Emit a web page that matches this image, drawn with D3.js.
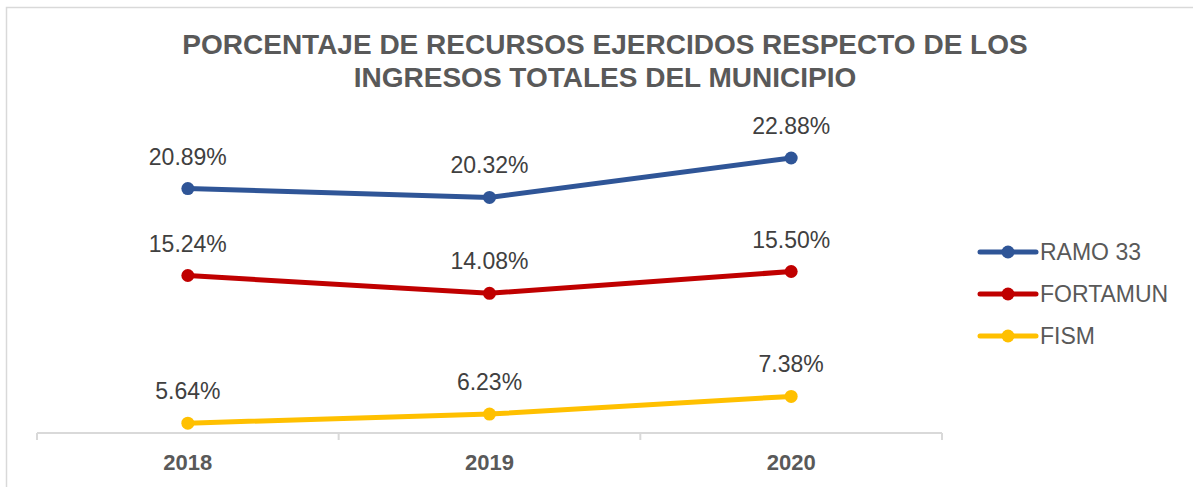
<!DOCTYPE html>
<html>
<head>
<meta charset="utf-8">
<script src="https://cdn.jsdelivr.net/npm/d3@7"></script>
<style>
  body { margin: 0; background: #fff; }
  text { font-family: "Liberation Sans", Arial, sans-serif; }
</style>
</head>
<body>
<div id="chart"></div>
<script>
// données
const YEARS = ['2018', '2019', '2020'];
const RAMO33 = [20.89, 20.32, 22.88];
const FORTAMUN = [15.24, 14.08, 15.50];
const FISM = [5.64, 6.23, 7.38];
const SERIES_NAMES = ['RAMO 33', 'FORTAMUN', 'FISM'];
const COLORS = ['#2F5597', '#C00000', '#FFC000'];

const SERIES = SERIES_NAMES.map((name, i) => ({
  name,
  color: COLORS[i],
  values: [RAMO33, FORTAMUN, FISM][i]
}));

const WIDTH = 1193;
const HEIGHT = 487;

const svg = d3.select('#chart').append('svg').attr('width', WIDTH).attr('height', HEIGHT);

// cadre du graphique
svg.append('rect')
  .attr('x', 6.5).attr('y', 7.5)
  .attr('width', 1250).attr('height', 520)
  .attr('fill', 'none')
  .attr('stroke', '#d9d9d9')
  .attr('stroke-width', 1.5);

// titre
const title = svg.append('text')
  .attr('text-anchor', 'middle')
  .attr('fill', '#595959')
  .style('font-size', '28px')
  .style('font-weight', 'bold');
title.append('tspan').attr('x', 605).attr('y', 54).text('PORCENTAJE DE RECURSOS EJERCIDOS RESPECTO DE LOS');
title.append('tspan').attr('x', 605).attr('y', 87).text('INGRESOS TOTALES DEL MUNICIPIO');

// échelles
const x = d3.scaleBand().domain(YEARS).range([37, 942]);
const y = d3.scaleLinear().domain([5, 25]).range([433, 125.4]);
const cx = d => x(d) + x.bandwidth() / 2;

// axe des x
const axis = svg.append('g').attr('transform', 'translate(0, 433)');
axis.append('line')
  .attr('x1', x.range()[0]).attr('x2', x.range()[1])
  .attr('stroke', '#d9d9d9').attr('stroke-width', 2);
const bounds = YEARS.map(d => x(d)).concat([x.range()[1]]);
axis.selectAll('.tick-mark')
  .data(bounds)
  .enter()
  .append('line')
  .attr('x1', d => d).attr('x2', d => d)
  .attr('y1', 0).attr('y2', 7)
  .attr('stroke', '#d9d9d9').attr('stroke-width', 2);
axis.selectAll('.tick-label')
  .data(YEARS)
  .enter()
  .append('text')
  .attr('x', cx)
  .attr('y', 37)
  .attr('text-anchor', 'middle')
  .attr('fill', '#595959')
  .style('font-size', '22px')
  .style('font-weight', 'bold')
  .text(d => d);

// les lignes
const line = d3.line()
  .x((v, i) => cx(YEARS[i]))
  .y(v => y(v));

const groups = svg.selectAll('.serie')
  .data(SERIES)
  .enter()
  .append('g');

groups.append('path')
  .attr('d', d => line(d.values))
  .attr('fill', 'none')
  .attr('stroke', d => d.color)
  .attr('stroke-width', 5)
  .attr('stroke-linecap', 'round');

groups.selectAll('circle')
  .data(d => d.values.map((v, i) => ({ v, i, color: d.color })))
  .enter()
  .append('circle')
  .attr('cx', d => cx(YEARS[d.i]))
  .attr('cy', d => y(d.v))
  .attr('r', 6.5)
  .attr('fill', d => d.color);

// étiquettes des valeurs
groups.selectAll('.label')
  .data(d => d.values.map((v, i) => ({ v, i })))
  .enter()
  .append('text')
  .attr('x', d => cx(YEARS[d.i]))
  .attr('y', d => y(d.v) - 24)
  .attr('text-anchor', 'middle')
  .attr('fill', '#404040')
  .style('font-size', '23px')
  .text(d => d.v.toFixed(2) + '%');

// la légende
const legend = svg.append('g').attr('transform', 'translate(980, 252)');
const ROW = 42;
const item = legend.selectAll('g')
  .data(SERIES)
  .enter()
  .append('g')
  .attr('transform', (d, i) => `translate(0, ${i * ROW})`);
item.append('line')
  .attr('x1', 0).attr('x2', 56)
  .attr('stroke', d => d.color)
  .attr('stroke-width', 5)
  .attr('stroke-linecap', 'round');
item.append('circle')
  .attr('cx', 28).attr('r', 6.5)
  .attr('fill', d => d.color);
item.append('text')
  .attr('x', 60)
  .attr('y', 8)
  .attr('fill', '#595959')
  .style('font-size', '23px')
  .text(d => d.name);
</script>
</body>
</html>
